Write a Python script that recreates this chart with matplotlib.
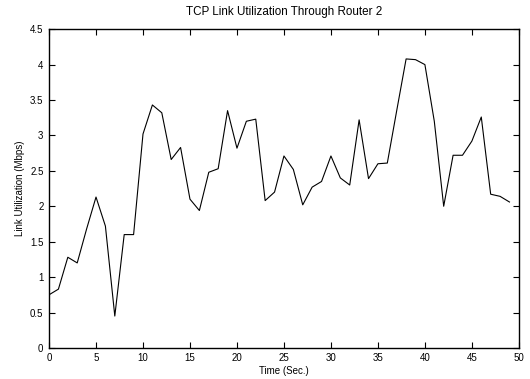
import numpy as np
import matplotlib.pyplot as plt

plt.rcParams['font.family'] = 'Liberation Sans'
plt.rcParams['font.size'] = 7

t = np.arange(0, 50)
util = [0.75, 0.83, 1.28, 1.2, 1.68, 2.13, 1.72, 0.45, 1.6, 1.6,
        3.02, 3.43, 3.32, 2.66, 2.83, 2.1, 1.94, 2.48, 2.53, 3.35,
        2.82, 3.2, 3.23, 2.08, 2.2, 2.71, 2.52, 2.02, 2.27, 2.35,
        2.71, 2.4, 2.3, 3.22, 2.39, 2.6, 2.61, 3.35, 4.08, 4.07,
        4.0, 3.2, 2.0, 2.72, 2.72, 2.92, 3.26, 2.17, 2.14, 2.06]

fig = plt.figure(figsize=(5.3, 3.79), dpi=100)
ax = fig.add_axes([0.0925, 0.082, 0.8865, 0.841])
ax.plot(t, util, color='black', lw=0.8)
ax.set_xlim(0, 50)
ax.set_ylim(0, 4.5)
ax.set_xticks(np.arange(0, 51, 5))
ax.set_yticks(np.arange(0, 4.51, 0.5))
ax.set_yticklabels(['0', '0.5', '1', '1.5', '2', '2.5', '3', '3.5', '4', '4.5'])
ax.tick_params(direction='in', top=True, right=True, length=4, width=0.8, pad=4)
for s in ax.spines.values():
    s.set_linewidth(1)
ax.set_xlabel('Time (Sec.)', labelpad=2)
ax.set_ylabel('Link Utilization (Mbps)', labelpad=4)
ax.set_title('TCP Link Utilization Through Router 2', pad=10)

fig.savefig('out.png')
